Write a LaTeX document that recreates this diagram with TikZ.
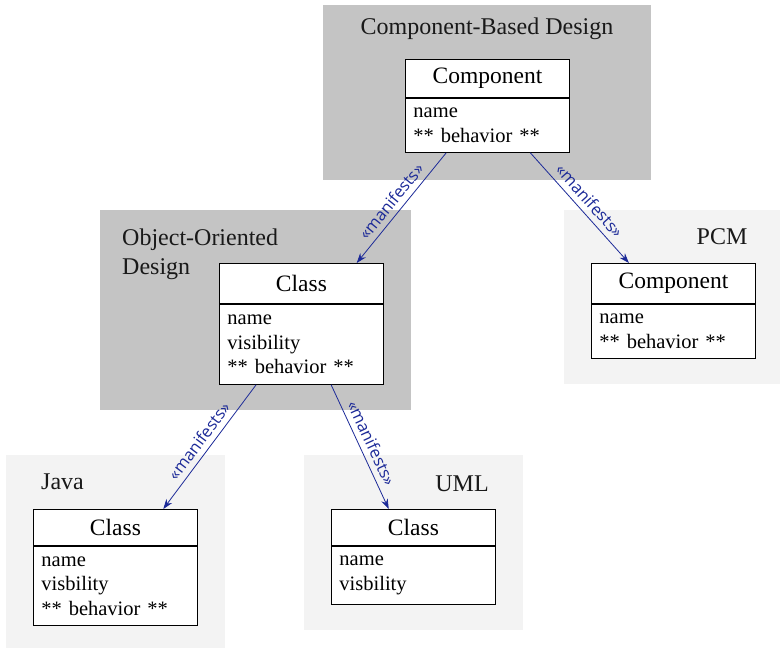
\documentclass[tikz,border=0pt]{standalone}
\usepackage{fontspec}
\setmainfont{Liberation Serif}
\newfontfamily\labelfont{Open Sans}
\usetikzlibrary{positioning,arrows.meta,calc}
\definecolor{grpdark}{RGB}{196,196,196}
\definecolor{grplight}{RGB}{243,243,243}
\definecolor{manblue}{RGB}{28,42,152}

\begin{document}
\begin{tikzpicture}[
  x=1pt, y=-1pt,
  font=\fontsize{20.5}{24.5}\selectfont,
  darkgrp/.style={fill=grpdark, inner sep=0pt},
  lightgrp/.style={fill=grplight, inner sep=0pt},
  grptitle/.style={font=\fontsize{24}{29}\selectfont, text=black!90, align=left, inner sep=0pt},
  titlebox/.style={draw, line width=0.9pt, fill=white, minimum width=164pt,
                   minimum height=38pt, inner sep=0pt, font=\fontsize{23.5}{28}\selectfont},
  attrbox/.style={draw, line width=0.9pt, fill=white, text width=148pt, align=left,
                  inner xsep=8pt, inner ysep=0pt, minimum height=54pt},
  manifests/.style={-{Stealth[length=10pt,width=7pt]}, manblue, line width=0.8pt},
  lbl/.style={font=\labelfont\fontsize{16.5}{19}\selectfont, text=manblue, sloped,
              above=4.5pt, inner sep=1pt, pos=0.51}]

\useasboundingbox (0,0) rectangle (780,648);

% group backgrounds
\node[darkgrp, minimum width=328pt, minimum height=175pt] (cbdgrp) at (487,92.5) {};
\node[darkgrp, minimum width=311pt, minimum height=200pt] (oogrp) at (255.5,310) {};
\node[lightgrp, minimum width=216pt, minimum height=174pt] (pcmgrp) at (672,297) {};
\node[lightgrp, minimum width=219pt, minimum height=193pt] (javagrp) at (115.5,551.5) {};
\node[lightgrp, minimum width=219pt, minimum height=175pt] (umlgrp) at (413.5,542.5) {};

% group titles
\node[grptitle] (cbdname) at (487,29) {Component-Based Design};
\node[grptitle, anchor=west] (ooname) at (122,254) {Object-Oriented\\Design};
\node[grptitle] (pcmname) at (722,237) {PCM};
\node[grptitle, anchor=west] (javaname) at (41,482) {Java};
\node[grptitle] (umlname) at (462,484) {UML};

% classifiers
\node[titlebox, anchor=north west] (cbd) at (405,59) {Component};
\node[attrbox, below=0pt of cbd] (cbdattr) {name\\{}** behavior **};

\node[titlebox, anchor=north west, minimum height=40pt] (oo) at (219,263) {Class};
\node[attrbox, below=0pt of oo, minimum height=80pt] (ooattr) {name\\visibility\\{}** behavior **};

\node[titlebox, anchor=north west, minimum height=40pt] (pcm) at (591,263) {Component};
\node[attrbox, below=0pt of pcm] (pcmattr) {name\\{}** behavior **};

\node[titlebox, anchor=north west, minimum height=36pt] (java) at (33,509) {Class};
\node[attrbox, below=0pt of java, minimum height=79pt] (javaattr) {name\\visbility\\{}** behavior **};

\node[titlebox, anchor=north west, minimum height=36pt] (uml) at (331,509) {Class};
\node[attrbox, below=0pt of uml, minimum height=58pt] (umlattr) {name\\visbility};

% manifestations
\draw[manifests] ($(cbdattr.south west)!0.25!(cbdattr.south east)$)
  -- node[lbl] {«manifests»} ($(oo.north west)!0.835!(oo.north east)$);
\draw[manifests] ($(cbdattr.south west)!0.76!(cbdattr.south east)$)
  -- node[lbl] {«manifests»} ($(pcm.north west)!0.23!(pcm.north east)$);
\draw[manifests] ($(ooattr.south west)!0.225!(ooattr.south east)$)
  -- node[lbl] {«manifests»} ($(java.north west)!0.79!(java.north east)$);
\draw[manifests] ($(ooattr.south west)!0.68!(ooattr.south east)$)
  -- node[lbl] {«manifests»} ($(uml.north west)!0.35!(uml.north east)$);
\end{tikzpicture}
\end{document}
